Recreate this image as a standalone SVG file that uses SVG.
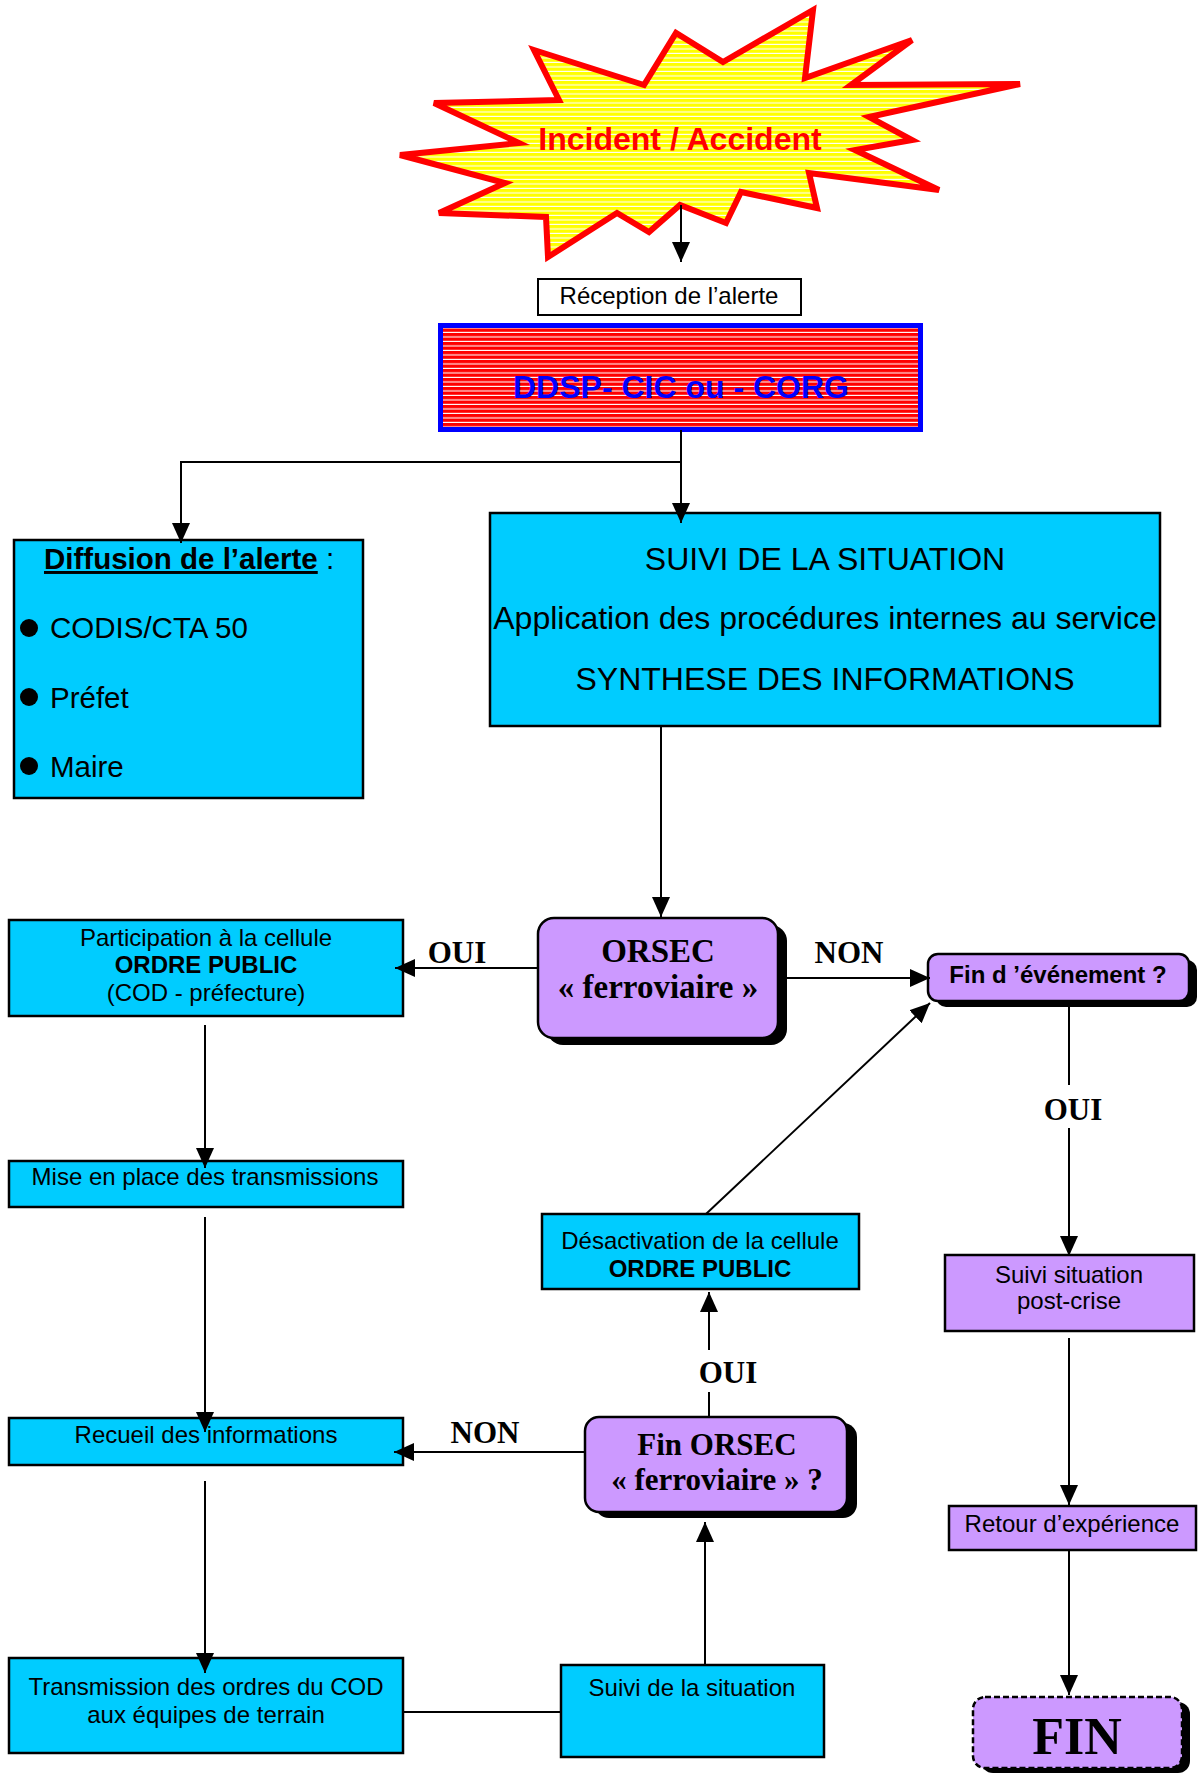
<svg xmlns="http://www.w3.org/2000/svg" width="1200" height="1775" viewBox="0 0 1200 1775">
<defs>
<pattern id="pyel" width="10" height="4.5" patternUnits="userSpaceOnUse"><rect width="10" height="4.5" fill="#FFFF00"/><rect y="3.4" width="10" height="1.1" fill="#FFFFFF"/></pattern>
<pattern id="pred" width="10" height="4.5" patternUnits="userSpaceOnUse"><rect width="10" height="4.5" fill="#FF0000"/><rect y="3.4" width="10" height="1.1" fill="#FFFFFF"/></pattern>
<marker id="ah" markerWidth="20" markerHeight="18" refX="20" refY="9" orient="auto" markerUnits="userSpaceOnUse"><path d="M0,0 L20,9 L0,18 z" fill="#000"/></marker>
<style>
.sans{font-family:"Liberation Sans",Arial,sans-serif;}
.serif{font-family:"Liberation Serif","Times New Roman",serif;font-weight:bold;}
.cyan{fill:#00CCFF;stroke:#000;stroke-width:2.5;}
.purp{fill:#CC99FF;stroke:#000;stroke-width:2.5;}
.shadow{fill:#000;}
.conn{fill:none;stroke:#000;stroke-width:2;}
.t24{font-size:24px;fill:#000;}
.lbl{font-size:31px;fill:#000;}
</style>
</defs>
<rect width="1200" height="1775" fill="#FFFFFF"/>

<g id="incident">
<polygon points="534,50 644,85 676,33 723,62 813,10 805,78 912,40 851,85 1020,84 869,117 912,140 855,150 939,190 809,173 817,208 741,192 726,223 680,205 649,232 617,213 548,257 546,217 439,213 505,183 400,155 519,143 434,103 559,100" fill="url(#pyel)" stroke="#FF0000" stroke-width="6" stroke-linejoin="miter"/>
<text class="sans" x="680" y="150" text-anchor="middle" font-size="32" font-weight="bold" fill="#FF0000">Incident / Accident</text>
</g>

<g id="reception">
<rect x="538" y="279" width="263" height="36" fill="#FFFFFF" stroke="#000" stroke-width="2"/>
<text class="sans" x="669" y="304" text-anchor="middle" font-size="24" fill="#000">Réception de l’alerte</text>
</g>

<g id="ddsp">
<rect x="440.5" y="325.5" width="480" height="104" fill="url(#pred)" stroke="#0000FF" stroke-width="5"/>
<text class="sans" x="681" y="398" text-anchor="middle" font-size="32" font-weight="bold" fill="#0000FF">DDSP- CIC ou - CORG</text>
</g>

<g id="diffusion">
<rect class="cyan" x="14" y="540" width="349" height="258"/>
<text class="sans" x="44" y="569" font-size="29.5" fill="#000"><tspan font-weight="bold" text-decoration="underline">Diffusion de l’alerte</tspan> :</text>
<circle cx="29" cy="628" r="9" fill="#000"/>
<text class="sans" x="50" y="638" font-size="29.5" fill="#000">CODIS/CTA 50</text>
<circle cx="29" cy="697" r="9" fill="#000"/>
<text class="sans" x="50" y="708" font-size="29.5" fill="#000">Préfet</text>
<circle cx="29" cy="766" r="9" fill="#000"/>
<text class="sans" x="50" y="777" font-size="29.5" fill="#000">Maire</text>
</g>

<g id="suivi">
<rect class="cyan" x="490" y="513" width="670" height="213"/>
<text class="sans" x="825" y="570" text-anchor="middle" font-size="32" fill="#000">SUIVI DE LA SITUATION</text>
<text class="sans" x="825" y="629" text-anchor="middle" font-size="32" fill="#000">Application des procédures internes au service</text>
<text class="sans" x="825" y="690" text-anchor="middle" font-size="32" fill="#000">SYNTHESE DES INFORMATIONS</text>
</g>

<g id="orsec">
<rect class="shadow" x="547" y="925" width="240" height="120" rx="16"/>
<rect class="purp" x="538" y="918" width="240" height="120" rx="16"/>
<text class="serif" x="658" y="962" text-anchor="middle" font-size="33" fill="#000">ORSEC</text>
<text class="serif" x="658" y="998" text-anchor="middle" font-size="33" fill="#000">« ferroviaire »</text>
</g>

<g id="participation">
<rect class="cyan" x="9" y="920" width="394" height="96"/>
<text class="sans t24" x="206" y="946" text-anchor="middle">Participation à la cellule</text>
<text class="sans t24" x="206" y="973" text-anchor="middle" font-weight="bold" font-size="23">ORDRE PUBLIC</text>
<text class="sans t24" x="206" y="1001" text-anchor="middle">(COD - préfecture)</text>
</g>

<g id="finevenement">
<rect class="shadow" x="936" y="960" width="261" height="47" rx="10"/>
<rect class="purp" x="928" y="954" width="261" height="47" rx="10"/>
<text class="sans" x="1058" y="983" text-anchor="middle" font-size="24" font-weight="bold" fill="#000">Fin d ’événement ?</text>
</g>

<g id="miseenplace">
<rect class="cyan" x="9" y="1161" width="394" height="46"/>
<text class="sans t24" x="205" y="1185" text-anchor="middle">Mise en place des transmissions</text>
</g>

<g id="desactivation">
<rect class="cyan" x="542" y="1214" width="317" height="75"/>
<text class="sans t24" x="700" y="1249" text-anchor="middle">Désactivation de la cellule</text>
<text class="sans t24" x="700" y="1277" text-anchor="middle" font-weight="bold" font-size="23">ORDRE PUBLIC</text>
</g>

<g id="postcrise">
<rect class="purp" x="945" y="1255" width="249" height="76"/>
<text class="sans t24" x="1069" y="1283" text-anchor="middle">Suivi situation</text>
<text class="sans t24" x="1069" y="1309" text-anchor="middle">post-crise</text>
</g>

<g id="recueil">
<rect class="cyan" x="9" y="1418" width="394" height="47"/>
<text class="sans t24" x="206" y="1443" text-anchor="middle">Recueil des informations</text>
</g>

<g id="finorsec">
<rect class="shadow" x="595" y="1423" width="262" height="95" rx="14"/>
<rect class="purp" x="585" y="1417" width="262" height="95" rx="14"/>
<text class="serif" x="717" y="1455" text-anchor="middle" font-size="31" fill="#000">Fin ORSEC</text>
<text class="serif" x="717" y="1490" text-anchor="middle" font-size="31" fill="#000">« ferroviaire » ?</text>
</g>

<g id="retour">
<rect class="purp" x="949" y="1506" width="247" height="44"/>
<text class="sans t24" x="1072" y="1532" text-anchor="middle">Retour d’expérience</text>
</g>

<g id="transmission">
<rect class="cyan" x="9" y="1658" width="394" height="95"/>
<text class="sans t24" x="206" y="1695" text-anchor="middle">Transmission des ordres du COD</text>
<text class="sans t24" x="206" y="1723" text-anchor="middle">aux équipes de terrain</text>
</g>

<g id="suivisituation">
<rect class="cyan" x="561" y="1665" width="263" height="92"/>
<text class="sans t24" x="692" y="1696" text-anchor="middle">Suivi de la situation</text>
</g>

<g id="fin">
<rect class="shadow" x="981" y="1702" width="209" height="71" rx="12"/>
<rect x="973" y="1697" width="209" height="71" rx="12" fill="#CC99FF" stroke="#000" stroke-width="2.5" stroke-dasharray="6,3"/>
<text class="serif" x="1077" y="1754" text-anchor="middle" font-size="52" fill="#000">FIN</text>
</g>

<g id="connectors">
<path class="conn" d="M681,205 V262" marker-end="url(#ah)"/>
<path class="conn" d="M681,430 V523" marker-end="url(#ah)"/>
<path class="conn" d="M681,462 H181 V543" marker-end="url(#ah)"/>
<path class="conn" d="M661,727 V917" marker-end="url(#ah)"/>
<path class="conn" d="M538,968 H395" marker-end="url(#ah)"/>
<path class="conn" d="M778,978 H930" marker-end="url(#ah)"/>
<path class="conn" d="M205,1025 V1168" marker-end="url(#ah)"/>
<path class="conn" d="M205,1217 V1432" marker-end="url(#ah)"/>
<path class="conn" d="M205,1481 V1673" marker-end="url(#ah)"/>
<path class="conn" d="M403,1712 H561"/>
<path class="conn" d="M705,1665 V1522" marker-end="url(#ah)"/>
<path class="conn" d="M585,1452 H394" marker-end="url(#ah)"/>
<path class="conn" d="M709,1417 V1392"/>
<path class="conn" d="M709,1350 V1292" marker-end="url(#ah)"/>
<path class="conn" d="M706,1214 L930,1003" marker-end="url(#ah)"/>
<path class="conn" d="M1069,1007 V1085"/>
<path class="conn" d="M1069,1128 V1256" marker-end="url(#ah)"/>
<path class="conn" d="M1069,1338 V1505" marker-end="url(#ah)"/>
<path class="conn" d="M1069,1551 V1695" marker-end="url(#ah)"/>
<text class="serif lbl" x="457" y="963" text-anchor="middle">OUI</text>
<text class="serif lbl" x="849" y="963" text-anchor="middle">NON</text>
<text class="serif lbl" x="1073" y="1120" text-anchor="middle">OUI</text>
<text class="serif lbl" x="728" y="1383" text-anchor="middle">OUI</text>
<text class="serif lbl" x="485" y="1443" text-anchor="middle">NON</text>
</g>
</svg>
